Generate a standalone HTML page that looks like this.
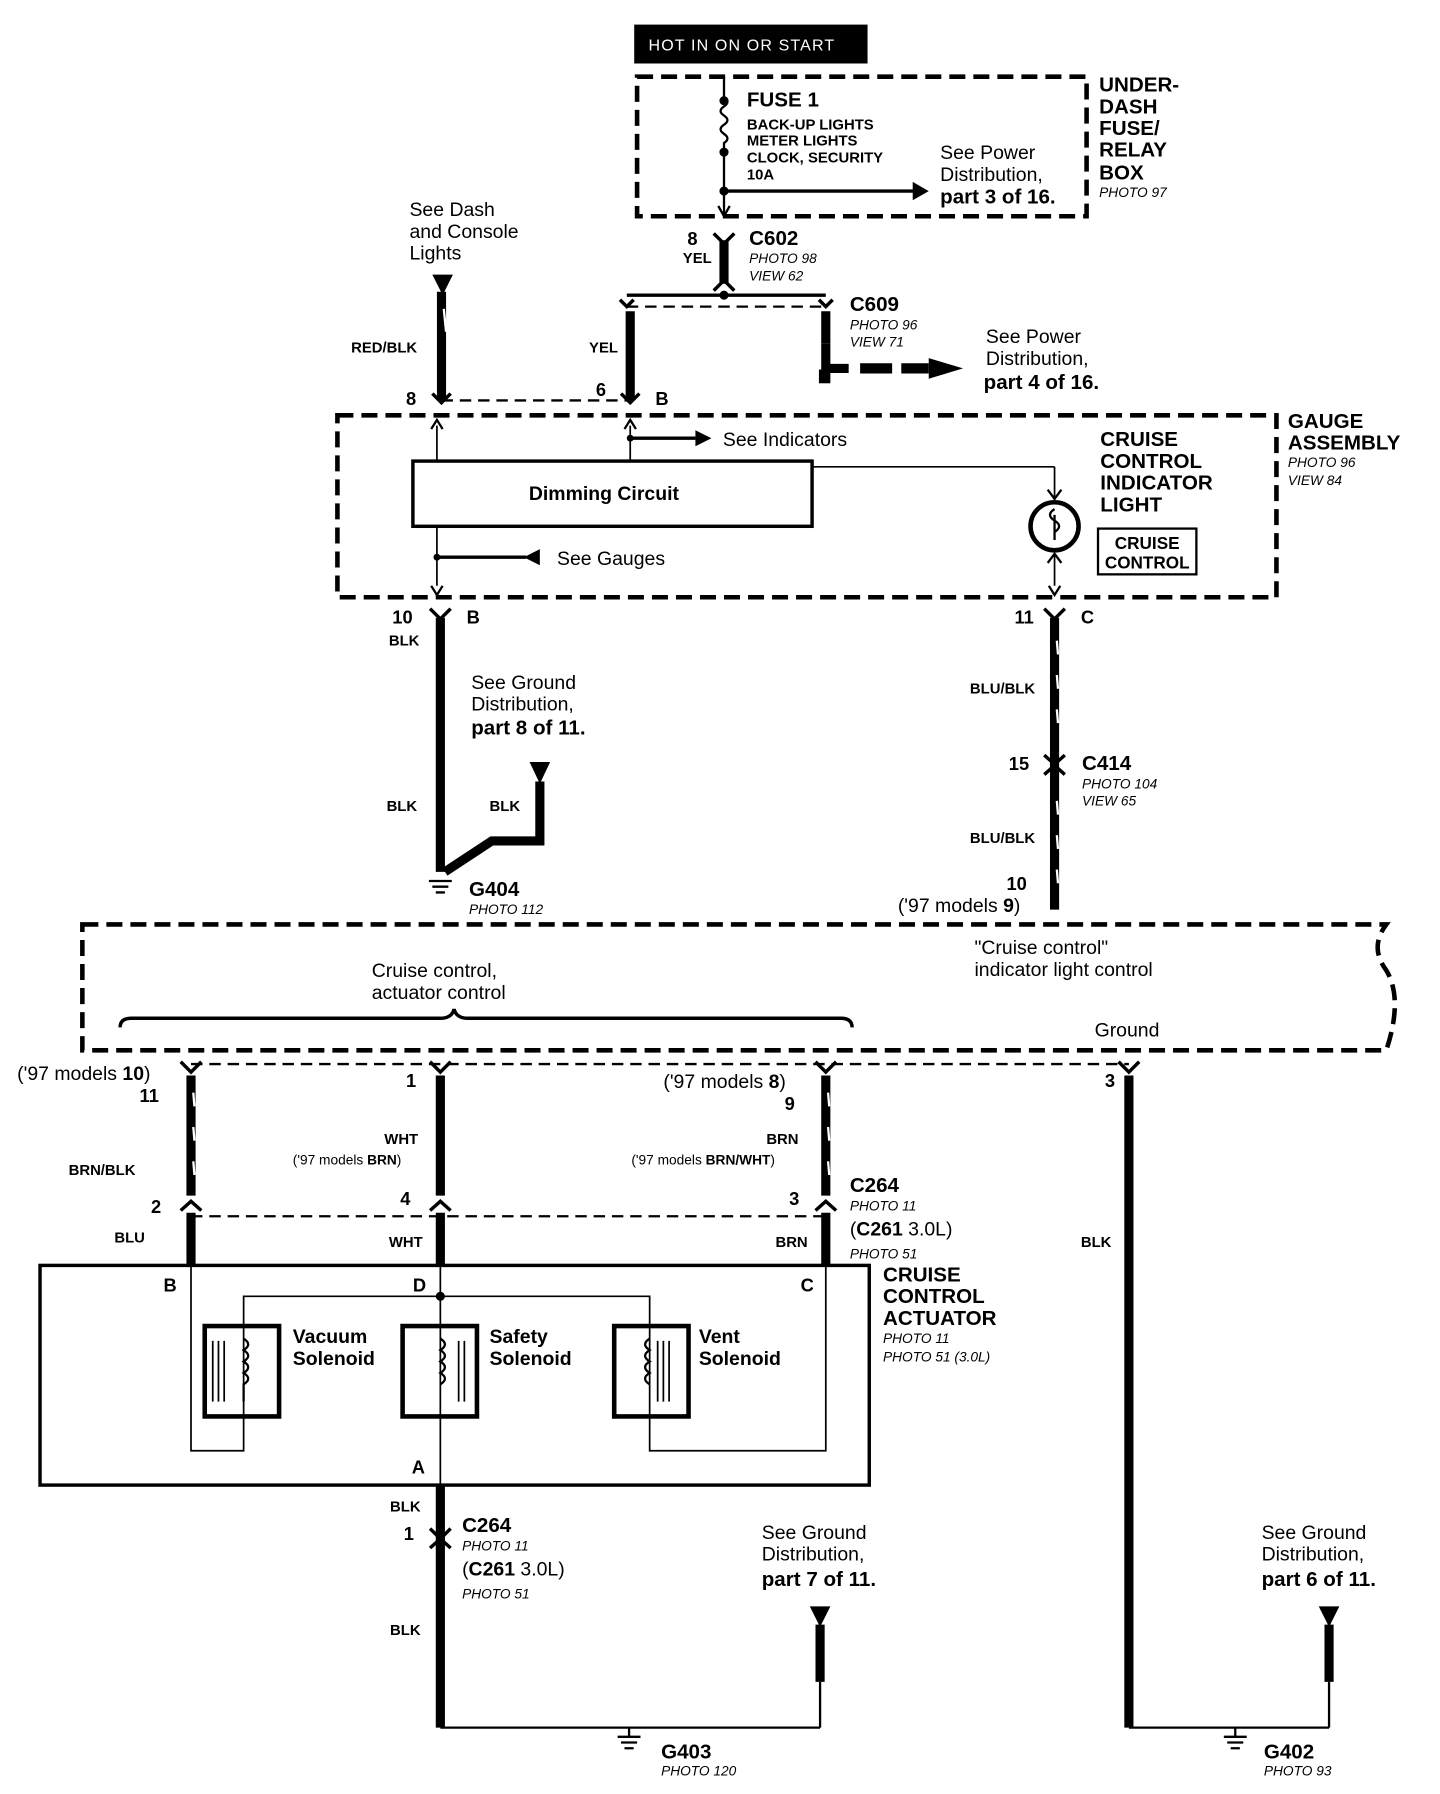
<!DOCTYPE html>
<html><head><meta charset="utf-8"><style>
html,body{margin:0;padding:0;background:#fff}
svg{display:block}
text{font-family:"Liberation Sans",sans-serif;fill:#000}
.b{font-weight:bold}
.s{font-size:12px;font-style:italic}
.m{font-size:17px}
.l{font-size:18px;font-weight:bold}
.t{font-size:13px;font-weight:bold}
.n{font-size:16px;font-weight:bold}
.d{font-size:17px;font-weight:bold}
</style></head><body>
<svg width="1440" height="1794" viewBox="0 0 1259 1568" preserveAspectRatio="none" xmlns="http://www.w3.org/2000/svg">
<g fill="none" stroke="#000">
<rect x="555" y="22" width="203" height="33" fill="#000"/>
<rect x="557" y="67" width="393" height="122" stroke-width="4" stroke-dasharray="14,7"/>
<path d="M633 67 V85 q6 4 0 8 q-6 4 0 8 q6 4 0 8 q-6 4 0 8 q6 4 0 8 V189" stroke-width="2"/>
<path d="M633 167 H800" stroke-width="3"/>
<path d="M628 180 L633 189 L638 180" stroke-width="2"/>
<path d="M633 210 V248" stroke-width="8"/>
<path d="M624 204 l9 9 l9 -9 M624 254 l9 -9 l9 9" stroke-width="3"/>
<path d="M548 258 H722" stroke-width="3"/>
<path d="M548 268 H722" stroke-width="2" stroke-dasharray="10,6"/>
<path d="M542 262 l6 6 l6 -6 M716 262 l6 6 l6 -6" stroke-width="3"/>
<path d="M551 272 V350" stroke-width="8"/>
<path d="M722 272 V300" stroke-width="8"/>
<path d="M722 300 V322 H742" stroke-width="8"/>
<path d="M752 322 H812" stroke-width="9" stroke-dasharray="28,8"/>
<path d="M386 255 V350" stroke-width="8"/>
<path d="M388 270 l2 20" stroke="#fff" stroke-width="2"/>
<path d="M386 350 H551" stroke-width="2" stroke-dasharray="10,6"/>
<path d="M378 344 l8 8 l8 -8 M543 344 l8 8 l8 -8" stroke-width="3"/>
<rect x="295" y="363" width="821" height="159" stroke-width="4" stroke-dasharray="14,7"/>
<path d="M382 372 V403 M551 372 V403 M382 460 V512 M922 408 V440 M922 484 V512" stroke-width="1.5"/>
<path d="M377 375 l5 -8 l5 8 M546 375 l5 -8 l5 8 M377 512 l5 8 l5 -8 M917 512 l5 8 l5 -8" stroke-width="2"/>
<path d="M551 383 H608" stroke-width="3"/>
<path d="M382 487 H460" stroke-width="3"/>
<rect x="361" y="403" width="349" height="57" stroke-width="3"/>
<path d="M710 408 H922" stroke-width="1.5"/>
<path d="M916 428 l6 8 l6 -8 M916 492 l6 -8 l6 8" stroke-width="2"/>
<circle cx="922" cy="460" r="21" stroke-width="4"/>
<path d="M922 445 q-8 5 0 10 q8 5 0 10 M922 450 V472" stroke-width="2"/>
<rect x="960" y="462" width="86" height="40" stroke-width="2"/>
<path d="M385 540 V762" stroke-width="8"/>
<path d="M376 532 l9 9 l9 -9" stroke-width="3"/>
<path d="M472 683 V735 H430 L389 762" stroke-width="8"/>
<path d="M922 540 V795" stroke-width="8"/>
<path d="M913 532 l9 9 l9 -9 M913 660 l9 8 l9 -8 M913 677 l9 -8 l9 8" stroke-width="3"/>
<path d="M924 560 l1 12 M924 590 l1 12 M924 620 l1 12 M924 700 l1 12 M924 730 l1 12 M924 760 l1 12" stroke="#fff" stroke-width="2"/>
<path d="M375 770 H395 M378 775 H392 M381 780 H389" stroke-width="2"/>
<path d="M72 808 H1212 q-15 20 0 40 q15 25 0 70 H72 Z" stroke-width="4" stroke-dasharray="14,7"/>
<path d="M105 898 q0 -8 10 -8 H385 q10 0 12 -8 q2 8 12 8 H735 q10 0 10 8" stroke-width="3"/>
<path d="M167 930 H987" stroke-width="2" stroke-dasharray="10,6"/>
<path d="M158 928 l9 9 l9 -9 M376 928 l9 9 l9 -9 M713 928 l9 9 l9 -9 M978 928 l9 9 l9 -9" stroke-width="3"/>
<path d="M167 940 V1045 M385 940 V1045 M722 940 V1045" stroke-width="8"/>
<path d="M987 940 V1510" stroke-width="8"/>
<path d="M169 955 l1 12 M169 985 l1 12 M169 1015 l1 12 M724 955 l1 12 M724 985 l1 12 M724 1015 l1 12" stroke="#fff" stroke-width="2"/>
<path d="M158 1058 l9 -8 l9 8 M376 1058 l9 -8 l9 8 M713 1058 l9 -8 l9 8" stroke-width="3"/>
<path d="M167 1063 H722" stroke-width="2" stroke-dasharray="10,6"/>
<path d="M167 1060 V1106 M385 1060 V1106 M722 1060 V1106" stroke-width="8"/>
<rect x="35" y="1106" width="725" height="192" stroke-width="3"/>
<path d="M167 1106 V1268 H213 V1133 H568 V1268 H722 V1106" stroke-width="1.5"/>
<path d="M385 1106 V1298" stroke-width="1.5"/>
<rect x="179" y="1159" width="65" height="79" stroke-width="4"/>
<rect x="352" y="1159" width="65" height="79" stroke-width="4"/>
<rect x="537" y="1159" width="65" height="79" stroke-width="4"/>
<path d="M186 1172 V1225 M191 1172 V1225 M196 1172 V1225 M401 1172 V1225 M406 1172 V1225 M575 1172 V1225 M580 1172 V1225 M585 1172 V1225" stroke-width="1.5"/>
<path d="M213 1170 q8 5 0 10 q8 5 0 10 q8 5 0 10 q8 5 0 10 V1225 M385 1170 q8 5 0 10 q8 5 0 10 q8 5 0 10 q8 5 0 10 M568 1170 q-8 5 0 10 q-8 5 0 10 q-8 5 0 10 q-8 5 0 10" stroke-width="2"/>
<path d="M385 1298 V1510" stroke-width="8"/>
<path d="M376 1336 l9 9 l9 -9 M376 1353 l9 -8 l9 8" stroke-width="3"/>
<path d="M717 1420 V1470 M1162 1420 V1470" stroke-width="8"/>
<path d="M717 1470 V1510 M1162 1470 V1510 M385 1510 H717 M987 1510 H1162" stroke-width="2"/>
<path d="M550 1510 V1518 M540 1518 H560 M543 1523 H557 M546 1528 H554 M1080 1510 V1518 M1070 1518 H1090 M1073 1523 H1087 M1076 1528 H1084" stroke-width="2"/>
</g>
<g fill="#000">
<circle cx="633" cy="88" r="4"/><circle cx="633" cy="133" r="4"/><circle cx="633" cy="167" r="4"/>
<circle cx="633" cy="258" r="4"/><circle cx="551" cy="383" r="3"/><circle cx="382" cy="487" r="3"/><circle cx="385" cy="1133" r="4"/>
<path d="M798 159 L812 167 L798 175Z"/>
<path d="M812 313 L842 322 L812 331Z"/>
<path d="M378 240 H396 L387 258Z"/>
<path d="M608 376 L622 383 L608 390Z"/>
<path d="M472 480 L458 487 L472 494Z"/>
<path d="M463 666 H481 L472 685Z"/>
<path d="M708 1404 H726 L717 1422Z"/>
<path d="M1153 1404 H1171 L1162 1422Z"/>
<path d="M716 323 h10 v12 h-10z"/>
</g>
<text x="567" y="44" style="font-size:14px;fill:#fff" letter-spacing="1">HOT IN ON OR START</text>
<text x="653" y="93" class="l">FUSE 1</text>
<text class="t"><tspan x="653" y="113">BACK-UP LIGHTS</tspan><tspan x="653" y="127">METER LIGHTS</tspan><tspan x="653" y="142">CLOCK, SECURITY</tspan><tspan x="653" y="157">10A</tspan></text>
<text class="m"><tspan x="822" y="139">See Power</tspan><tspan x="822" y="158">Distribution,</tspan></text>
<text x="822" y="178" class="l">part 3 of 16.</text>
<text class="l"><tspan x="961" y="80">UNDER-</tspan><tspan x="961" y="99">DASH</tspan><tspan x="961" y="118">FUSE/</tspan><tspan x="961" y="137">RELAY</tspan><tspan x="961" y="157">BOX</tspan></text>
<text x="961" y="172" class="s">PHOTO 97</text>
<text x="601" y="214" class="n">8</text><text x="597" y="230" class="t">YEL</text>
<text x="655" y="214" class="l">C602</text><text x="655" y="230" class="s">PHOTO 98</text><text x="655" y="245" class="s">VIEW 62</text>
<text x="743" y="272" class="l">C609</text><text x="743" y="288" class="s">PHOTO 96</text><text x="743" y="303" class="s">VIEW 71</text>
<text class="m"><tspan x="862" y="300">See Power</tspan><tspan x="862" y="319">Distribution,</tspan></text>
<text x="860" y="340" class="l">part 4 of 16.</text>
<text class="m"><tspan x="358" y="189">See Dash</tspan><tspan x="358" y="208">and Console</tspan><tspan x="358" y="227">Lights</tspan></text>
<text x="307" y="308" class="t">RED/BLK</text><text x="515" y="308" class="t">YEL</text>
<text x="355" y="354" class="n">8</text><text x="521" y="346" class="n">6</text><text x="573" y="354" class="n">B</text>
<text class="l"><tspan x="1126" y="374">GAUGE</tspan><tspan x="1126" y="393">ASSEMBLY</tspan></text>
<text class="s"><tspan x="1126" y="408">PHOTO 96</tspan><tspan x="1126" y="424">VIEW 84</tspan></text>
<text x="632" y="390" class="m">See Indicators</text>
<text x="528" y="437" class="d" text-anchor="middle">Dimming Circuit</text>
<text class="l"><tspan x="962" y="390">CRUISE</tspan><tspan x="962" y="409">CONTROL</tspan><tspan x="962" y="428">INDICATOR</tspan><tspan x="962" y="447">LIGHT</tspan></text>
<text class="t" style="font-size:15px" text-anchor="middle"><tspan x="1003" y="480">CRUISE</tspan><tspan x="1003" y="497">CONTROL</tspan></text>
<text x="487" y="494" class="m">See Gauges</text>
<text x="343" y="545" class="n">10</text><text x="408" y="545" class="n">B</text><text x="340" y="564" class="t">BLK</text>
<text class="m"><tspan x="412" y="602">See Ground</tspan><tspan x="412" y="621">Distribution,</tspan></text>
<text x="412" y="642" class="l">part 8 of 11.</text>
<text x="338" y="709" class="t">BLK</text><text x="428" y="709" class="t">BLK</text>
<text x="410" y="783" class="l">G404</text><text x="410" y="799" class="s">PHOTO 112</text>
<text x="887" y="545" class="n">11</text><text x="945" y="545" class="n">C</text>
<text x="848" y="606" class="t">BLU/BLK</text>
<text x="882" y="673" class="n">15</text><text x="946" y="673" class="l">C414</text>
<text class="s"><tspan x="946" y="689">PHOTO 104</tspan><tspan x="946" y="704">VIEW 65</tspan></text>
<text x="848" y="737" class="t">BLU/BLK</text>
<text x="880" y="778" class="n">10</text>
<text x="785" y="797" class="m">('97 models <tspan class="b">9</tspan>)</text>
<text class="m"><tspan x="325" y="854">Cruise control,</tspan><tspan x="325" y="873">actuator control</tspan><tspan x="852" y="834">"Cruise control"</tspan><tspan x="852" y="853">indicator light control</tspan><tspan x="957" y="906">Ground</tspan></text>
<text x="15" y="944" class="m">('97 models <tspan class="b">10</tspan>)</text>
<text x="122" y="963" class="n">11</text>
<text x="355" y="950" class="n">1</text>
<text x="580" y="951" class="m">('97 models <tspan class="b">8</tspan>)</text>
<text x="686" y="970" class="n">9</text>
<text x="966" y="950" class="n">3</text>
<text x="60" y="1027" class="t">BRN/BLK</text>
<text x="336" y="1000" class="t">WHT</text><text x="256" y="1018" style="font-size:12px">('97 models <tspan class="b">BRN</tspan>)</text>
<text x="670" y="1000" class="t">BRN</text><text x="552" y="1018" style="font-size:12px">('97 models <tspan class="b">BRN/WHT</tspan>)</text>
<text x="132" y="1060" class="n">2</text><text x="350" y="1053" class="n">4</text><text x="690" y="1053" class="n">3</text>
<text x="743" y="1042" class="l">C264</text><text x="743" y="1058" class="s">PHOTO 11</text>
<text x="743" y="1080" class="m">(<tspan class="b">C261</tspan> 3.0L)</text><text x="743" y="1100" class="s">PHOTO 51</text>
<text x="100" y="1086" class="t">BLU</text><text x="340" y="1090" class="t">WHT</text><text x="678" y="1090" class="t">BRN</text><text x="945" y="1090" class="t">BLK</text>
<text class="n"><tspan x="143" y="1129">B</tspan><tspan x="361" y="1129">D</tspan><tspan x="700" y="1129">C</tspan><tspan x="360" y="1288">A</tspan></text>
<text class="l"><tspan x="772" y="1120">CRUISE</tspan><tspan x="772" y="1139">CONTROL</tspan><tspan x="772" y="1158">ACTUATOR</tspan></text>
<text class="s"><tspan x="772" y="1174">PHOTO 11</tspan><tspan x="772" y="1190">PHOTO 51 (3.0L)</tspan></text>
<text class="d"><tspan x="256" y="1174">Vacuum</tspan><tspan x="256" y="1193">Solenoid</tspan><tspan x="428" y="1174">Safety</tspan><tspan x="428" y="1193">Solenoid</tspan><tspan x="611" y="1174">Vent</tspan><tspan x="611" y="1193">Solenoid</tspan></text>
<text x="341" y="1321" class="t">BLK</text><text x="353" y="1346" class="n">1</text>
<text x="404" y="1339" class="l">C264</text><text x="404" y="1355" class="s">PHOTO 11</text>
<text x="404" y="1377" class="m">(<tspan class="b">C261</tspan> 3.0L)</text><text x="404" y="1397" class="s">PHOTO 51</text>
<text x="341" y="1429" class="t">BLK</text>
<text class="m"><tspan x="666" y="1345">See Ground</tspan><tspan x="666" y="1364">Distribution,</tspan><tspan x="1103" y="1345">See Ground</tspan><tspan x="1103" y="1364">Distribution,</tspan></text>
<text class="l"><tspan x="666" y="1386">part 7 of 11.</tspan><tspan x="1103" y="1386">part 6 of 11.</tspan></text>
<text x="578" y="1537" class="l">G403</text><text x="578" y="1552" class="s">PHOTO 120</text>
<text x="1105" y="1537" class="l">G402</text><text x="1105" y="1552" class="s">PHOTO 93</text>
</svg>
</body></html>
